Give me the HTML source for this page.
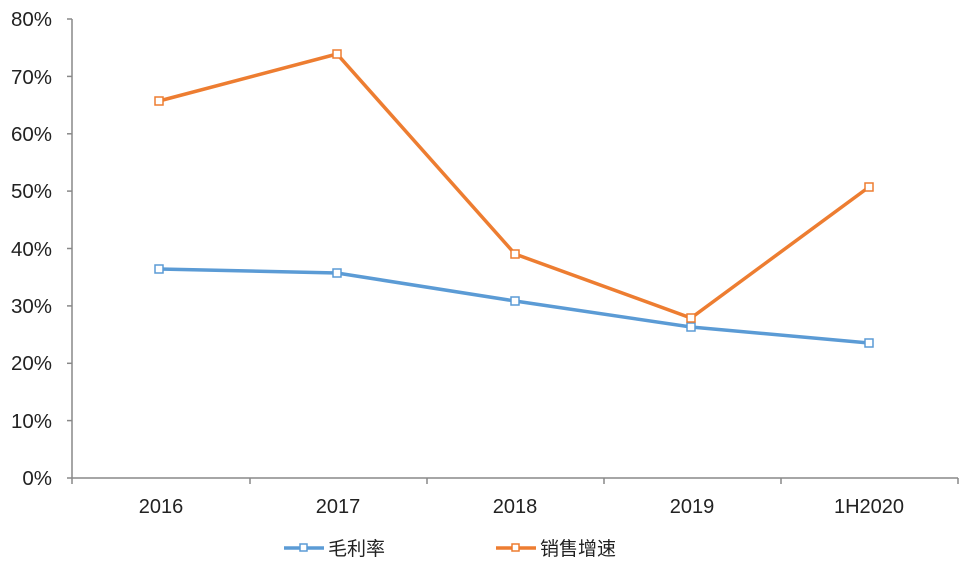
<!DOCTYPE html><html><head><meta charset="utf-8"><style>body{margin:0;background:#fff}svg{display:block}text{font-family:"Liberation Sans","Noto Sans CJK SC",sans-serif;fill:#222}</style></head><body>
<svg width="972" height="570" xmlns="http://www.w3.org/2000/svg">
<g stroke="#888" stroke-width="1.5" fill="none">
<line x1="72" y1="19" x2="72" y2="478"/>
<line x1="72" y1="478" x2="958" y2="478"/>
<line x1="67" y1="19" x2="72" y2="19"/><line x1="67" y1="76.4" x2="72" y2="76.4"/><line x1="67" y1="133.8" x2="72" y2="133.8"/><line x1="67" y1="191.1" x2="72" y2="191.1"/><line x1="67" y1="248.5" x2="72" y2="248.5"/><line x1="67" y1="305.9" x2="72" y2="305.9"/><line x1="67" y1="363.3" x2="72" y2="363.3"/><line x1="67" y1="420.6" x2="72" y2="420.6"/><line x1="67" y1="478" x2="72" y2="478"/>
<line x1="72" y1="478" x2="72" y2="484"/><line x1="250" y1="478" x2="250" y2="484"/><line x1="427" y1="478" x2="427" y2="484"/><line x1="604" y1="478" x2="604" y2="484"/><line x1="781" y1="478" x2="781" y2="484"/><line x1="958" y1="478" x2="958" y2="484"/>
</g>
<g font-size="20.5" text-anchor="end">
<text x="52" y="26">80%</text><text x="52" y="84">70%</text><text x="52" y="141">60%</text><text x="52" y="198">50%</text><text x="52" y="256">40%</text><text x="52" y="313">30%</text><text x="52" y="370">20%</text><text x="52" y="428">10%</text><text x="52" y="485">0%</text>
</g>
<g font-size="20" text-anchor="middle">
<text x="161" y="513">2016</text><text x="338" y="513">2017</text><text x="515" y="513">2018</text><text x="692" y="513">2019</text><text x="869" y="513">1H2020</text>
</g>
<polyline points="159,269 337,273 515,301 691,327 869,343" fill="none" stroke="#5b9bd5" stroke-width="3.5"/>
<polyline points="159,101 337,54 515,254 691,318 869,187" fill="none" stroke="#ed7d31" stroke-width="3.5"/>
<g fill="#fff" stroke="#5b9bd5" stroke-width="1.5">
<rect x="155" y="265" width="8" height="8"/><rect x="333" y="269" width="8" height="8"/><rect x="511" y="297" width="8" height="8"/><rect x="687" y="323" width="8" height="8"/><rect x="865" y="339" width="8" height="8"/>
</g>
<g fill="#fff" stroke="#ed7d31" stroke-width="1.5">
<rect x="155" y="97" width="8" height="8"/><rect x="333" y="50" width="8" height="8"/><rect x="511" y="250" width="8" height="8"/><rect x="687" y="314" width="8" height="8"/><rect x="865" y="183" width="8" height="8"/>
</g>
<line x1="284" y1="548" x2="324" y2="548" stroke="#5b9bd5" stroke-width="3.5"/>
<rect x="300" y="544" width="7" height="7" fill="#fff" stroke="#5b9bd5" stroke-width="1.5"/>
<text x="328" y="555" font-size="19">毛利率</text>
<line x1="496" y1="548" x2="536" y2="548" stroke="#ed7d31" stroke-width="3.5"/>
<rect x="512" y="544" width="7" height="7" fill="#fff" stroke="#ed7d31" stroke-width="1.5"/>
<text x="540" y="555" font-size="19">销售增速</text>
</svg>
</body></html>
